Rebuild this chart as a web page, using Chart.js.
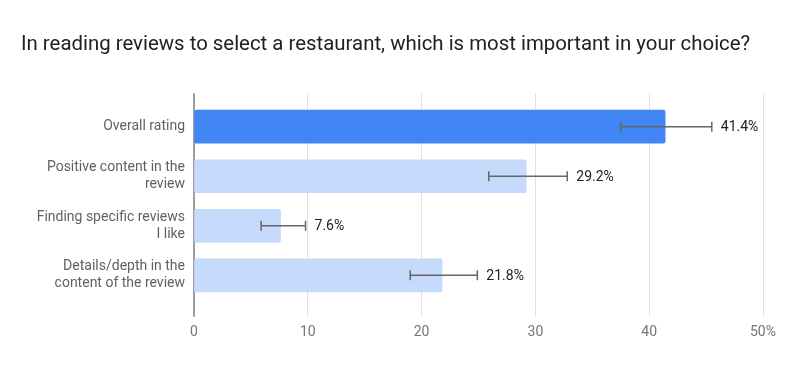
<!DOCTYPE html>
<html>
<head>
<meta charset="utf-8">
<script src="https://cdn.jsdelivr.net/npm/chart.js@4/dist/chart.umd.min.js"></script>
<style>
  body { margin: 0; background: #fff; }
  #wrap { width: 800px; height: 392px; }
</style>
</head>
<body>
<div id="wrap"><canvas id="myChart"></canvas></div>
<script>
var categories = [
    ['Overall rating'],
    ['Positive content in the', 'review'],
    ['Finding specific reviews', 'I like'],
    ['Details/depth in the', 'content of the review']
];
var values = [41.4, 29.2, 7.6, 21.8];
var errLow = [37.5, 25.9, 5.9, 19.0];
var errHigh = [45.5, 32.8, 9.8, 24.9];
var xTicks = [0, 10, 20, 30, 40, 50];

// error bars + value labels, positioned through the chart's scales
var errorBars = {
    id: 'errorBars',
    afterDatasetsDraw: function(chart){
        var ctx = chart.ctx;
        var xs = chart.scales.x;
        var meta = chart.getDatasetMeta(0);
        ctx.save();
        for (var i = 0; i < values.length; i++) {
            var y = meta.data[i].y;
            var x1 = xs.getPixelForValue(errLow[i]);
            var x2 = xs.getPixelForValue(errHigh[i]);
            ctx.strokeStyle = '#666666';
            ctx.lineWidth = 1.5;
            ctx.beginPath();
            ctx.moveTo(x1, y); ctx.lineTo(x2, y);
            ctx.moveTo(x1, y - 5); ctx.lineTo(x1, y + 5);
            ctx.moveTo(x2, y - 5); ctx.lineTo(x2, y + 5);
            ctx.stroke();
            ctx.fillStyle = '#212121';
            ctx.font = '14px Roboto';
            ctx.textAlign = 'left';
            ctx.textBaseline = 'middle';
            ctx.fillText(values[i].toFixed(1) + '%', x2 + 9, y + 1);
        }
        ctx.restore();
    }
};

document.addEventListener('DOMContentLoaded', drawChart);

function drawChart(){
    var points = [];
    for (var i = 0; i < values.length; i++) {
        points.push({x: values[i], y: i});
    }

    var ctx = document.getElementById('myChart').getContext('2d');
    new Chart(ctx, {
        type: 'bar',
        data: {
            datasets: [{
                data: points,
                backgroundColor: function(c){ return c.dataIndex === 0 ? '#4285f4' : '#c6dafc'; },
                borderWidth: 0,
                borderRadius: 2,
                borderSkipped: false,
                barThickness: 33
            }]
        },
        plugins: [errorBars],
        options: {
            indexAxis: 'y',
            responsive: true,
            maintainAspectRatio: false,
            animation: false,
            events: [],
            layout: {padding: {left: 21, right: 37, top: 0, bottom: 52}},
            plugins: {
                legend: {display: false},
                tooltip: {enabled: false},
                title: {
                    display: true,
                    text: 'In reading reviews to select a restaurant, which is most important in your choice?',
                    align: 'start',
                    color: '#212121',
                    font: {family: 'Roboto', size: 20.4, weight: 'normal', lineHeight: 1.2},
                    padding: {top: 33, bottom: 36}
                }
            },
            scales: {
                x: {
                    type: 'linear',
                    min: 0,
                    max: 50,
                    afterBuildTicks: function(s){ s.ticks = xTicks.map(function(v){ return {value: v}; }); },
                    afterFit: function(s){ s.height = 24; },
                    border: {display: false},
                    grid: {
                        color: function(c){ return c.tick && c.tick.value === 0 ? '#9e9e9e' : '#e0e0e0'; },
                        drawTicks: false
                    },
                    ticks: {
                        padding: 8,
                        color: '#757575',
                        font: {family: 'Roboto', size: 14},
                        maxRotation: 0,
                        callback: function(v){ return v === 50 ? '50%' : String(v); }
                    }
                },
                y: {
                    type: 'linear',
                    reverse: true,
                    offset: false,
                    min: -0.67,
                    max: 3.82,
                    afterBuildTicks: function(s){ s.ticks = categories.map(function(c, i){ return {value: i}; }); },
                    afterFit: function(s){ s.width = 173; },
                    border: {display: true, color: '#9e9e9e', width: 1.5},
                    grid: {display: false, drawTicks: false},
                    ticks: {
                        padding: 9,
                        color: '#616161',
                        font: {family: 'Roboto', size: 14, lineHeight: 1.2},
                        callback: function(v){ return categories[v]; }
                    }
                }
            }
        }
    });
}
</script>
</body>
</html>
